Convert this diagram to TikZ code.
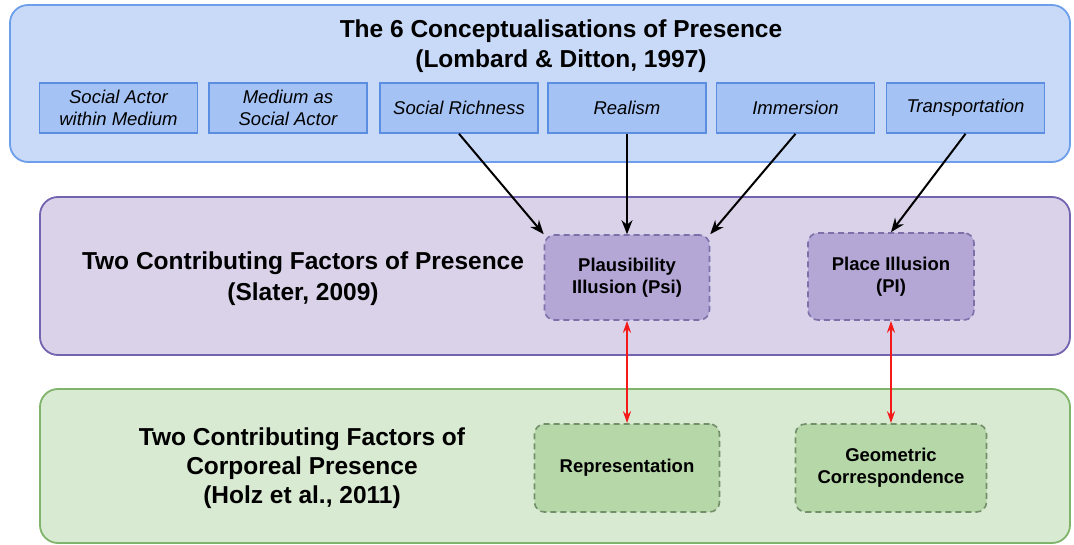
\documentclass[tikz,border=0pt]{standalone}
\usepackage{fontspec}
\setmainfont{Liberation Sans}
\usetikzlibrary{arrows.meta}

\definecolor{topfill}{HTML}{C9DAF8}
\definecolor{topline}{HTML}{6D9EEB}
\definecolor{conceptfill}{HTML}{A4C2F4}
\definecolor{conceptline}{HTML}{5B8EE0}
\definecolor{midfill}{HTML}{D9D2E9}
\definecolor{midline}{HTML}{7463B0}
\definecolor{factorfill}{HTML}{B4A7D6}
\definecolor{factorline}{HTML}{7D70A8}
\definecolor{lowfill}{HTML}{D9EAD3}
\definecolor{lowline}{HTML}{7FB46A}
\definecolor{corpfill}{HTML}{B6D7A8}
\definecolor{corpline}{HTML}{74906A}
\definecolor{linkred}{HTML}{F41A1A}

\tikzset{
  panel/.style={draw, line width=1.8pt, rounded corners=18pt, inner sep=0pt},
  concept/.style={draw=conceptline, fill=conceptfill, line width=1.6pt,
    minimum width=158pt, minimum height=50pt, inner sep=0pt, align=center,
    font=\fontsize{18.5}{22}\selectfont\itshape},
  factor/.style={dashed, dash pattern=on 6pt off 4pt, line width=1.6pt,
    rounded corners=10pt, inner sep=0pt, align=center,
    font=\fontsize{18.5}{22}\selectfont\bfseries},
  heading/.style={align=center, font=\fontsize{24.5}{30}\selectfont\bfseries},
  feed/.style={-{Stealth[length=14pt,width=11pt]}, line width=2pt, black},
  link/.style={{Stealth[length=12pt,width=8pt]}-{Stealth[length=12pt,width=8pt]}, line width=2pt, linkred}
}

\begin{document}
\begin{tikzpicture}[x=1pt,y=-1pt]
\useasboundingbox (0,0) rectangle (1074,545);

% three layered panels
\node[panel, draw=topline, fill=topfill, minimum width=1060pt, minimum height=157pt] (toppanel) at (540,83.5) {};
\node[panel, draw=midline, fill=midfill, minimum width=1030pt, minimum height=158pt] (midpanel) at (555,276) {};
\node[panel, draw=lowline, fill=lowfill, minimum width=1030pt, minimum height=154pt] (lowpanel) at (555,466) {};

% panel headings
\node[heading] (toptitle) at (561,46) {The 6 Conceptualisations of Presence\\(Lombard \& Ditton, 1997)};
\node[heading, font=\fontsize{24.5}{31}\selectfont\bfseries] (midtitle) at (303,279) {Two Contributing Factors of Presence\\(Slater, 2009)};
\node[heading, font=\fontsize{24.5}{29}\selectfont\bfseries] (lowtitle) at (302,468) {Two Contributing Factors of\\Corporeal Presence\\(Holz et al., 2011)};

% Lombard & Ditton conceptualisations
\node[concept] (sa) at (118.5,108) {Social Actor\\within Medium};
\node[concept] (ma) at (288,108) {Medium as\\Social Actor};
\node[concept] (sr) at (459,108) {Social Richness};
\node[concept] (re) at (627,108) {Realism};
\node[concept] (im) at (795.5,108) {Immersion};
\node[concept] (tr) at (965.5,108) {Transportation};

% Slater's factors
\node[factor, draw=factorline, fill=factorfill, minimum width=165pt, minimum height=85pt] (psi) at (627,277.5) {Plausibility\\Illusion (Psi)};
\node[factor, draw=factorline, fill=factorfill, minimum width=166pt, minimum height=87pt] (pi) at (891,276.5) {Place Illusion\\(PI)};

% Holz et al. factors
\node[factor, draw=corpline, fill=corpfill, minimum width=185pt, minimum height=88pt] (rep) at (627,468) {Representation};
\node[factor, draw=corpline, fill=corpfill, minimum width=191pt, minimum height=88pt] (geo) at (891,468) {Geometric\\Correspondence};

% connectors
\draw[feed] (sr.south) -- (psi.north west);
\draw[feed] (re.south) -- (psi.north);
\draw[feed] (im.south) -- (psi.north east);
\draw[feed] (tr.south) -- (pi.north);
\draw[link] (psi.south) -- (rep.north);
\draw[link] (pi.south) -- (geo.north);
\end{tikzpicture}
\end{document}
